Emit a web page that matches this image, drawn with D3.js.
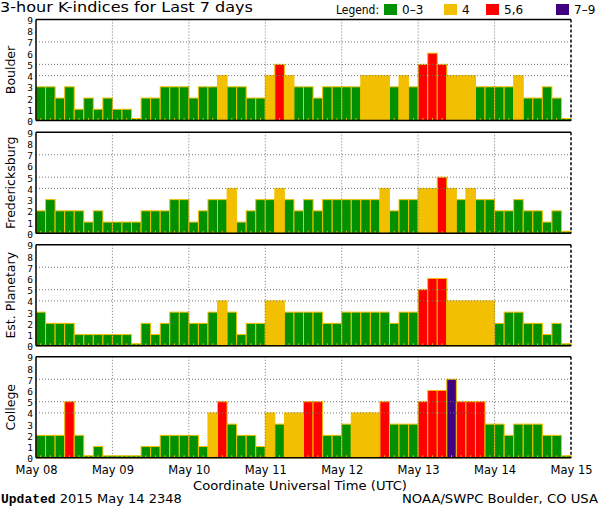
<html>
<head>
<meta charset="utf-8">
<title>K-indices</title>
<script src="https://d3js.org/d3.v7.min.js"></script>
<style>
  body { margin: 0; background: white; }
  text { font-family: "DejaVu Sans", sans-serif; fill: black; }
</style>
</head>
<body>
<svg id="chart" width="600" height="510"></svg>
<script>
// K-index values, 8 per day, May 08 00Z .. May 14 21Z
var boulder = [3,3,2,3,1,2,1,2, 1,1,0,2,2,3,3,3, 2,3,3,4,3,3,2,2, 4,5,4,3,3,2,3,3,
               3,3,4,4,4,3,4,3, 5,6,5,4,4,4,3,3, 3,3,4,2,2,3,2,0];
var fredericksburg = [2,3,2,2,2,1,2,1, 1,1,1,2,2,2,3,3, 1,2,3,3,4,1,2,3, 3,4,3,2,3,2,3,3,
                      3,3,3,3,4,2,3,3, 4,4,5,4,3,4,3,3, 2,2,3,2,2,1,2,0];
var planetary = [3,2,2,2,1,1,1,1, 1,1,0,2,1,2,3,3, 2,2,3,4,3,1,2,2, 4,4,3,3,3,3,2,2,
                 3,3,3,3,3,2,3,3, 5,6,6,4,4,4,4,4, 2,3,3,2,2,1,2,0];
var college = [2,2,2,5,2,0,1,0, 0,0,0,1,1,2,2,2, 2,1,4,5,3,2,2,1, 4,3,4,4,5,5,2,2,
               3,4,4,4,5,3,3,3, 5,6,6,7,5,5,5,3, 3,2,3,3,3,2,2,0];

var stations = ["Boulder", "Fredericksburg", "Est. Planetary", "College"];
var series = [boulder, fredericksburg, planetary, college];
var dayLabels = ["May 08","May 09","May 10","May 11","May 12","May 13","May 14","May 15"];
var yTicks = [0,1,2,3,4,5,6,7,8,9];
var gridLevels = [4,5,7];
var legendLabels = ["0\u20133", "4", "5,6", "7\u20139"];

var green = "#009000", yellow = "#f2c000", red = "#ff0000", purple = "#40007f";
var legendColors = [green, yellow, red, purple];
function kColor(v) {
  if (v <= 3) return green;
  if (v == 4) return yellow;
  if (v <= 6) return red;
  return purple;
}

var svg = d3.select("#chart");
var left = 36, right = 571;
var panelTop = [19.5, 132.3, 244.8, 356.8];
var panelH = 101;

var x = d3.scaleBand().domain(d3.range(56)).range([left, right]).paddingInner(0).paddingOuter(0);
var xDay = d3.scaleLinear().domain([0, 7]).range([left, right]);

// title
svg.append("text").attr("x", 0).attr("y", 12)
  .style("font-size", "14.5px").attr("textLength", 253).attr("lengthAdjust", "spacingAndGlyphs")
  .text("3-hour K-indices for Last 7 days");

// legend
svg.append("text").attr("x", 336).attr("y", 14).style("font-size", "11.5px")
  .attr("textLength", 43).attr("lengthAdjust", "spacingAndGlyphs").text("Legend:");
var legX = [384, 444, 486, 556];
legendLabels.forEach(function (l, i) {
  svg.append("rect").attr("x", legX[i]).attr("y", 4).attr("width", 13).attr("height", 11)
    .attr("fill", legendColors[i]);
  svg.append("text").attr("x", legX[i] + 18).attr("y", 14).style("font-size", "12px").text(l);
});

series.forEach(function (data, p) {
  var top = panelTop[p];
  var y = d3.scaleLinear().domain([0, 9]).range([top + panelH, top]);
  var g = svg.append("g");

  // bars
  g.selectAll("rect.bar").data(data).enter().append("rect")
    .attr("class", "bar")
    .attr("x", function (d, i) { return x(i); })
    .attr("width", x.bandwidth())
    .attr("y", function (d) { return Math.min(y(d), y(0) - 2); })
    .attr("height", function (d) { return Math.max(y(0) - y(d), 2); })
    .attr("fill", function (d) { return kColor(d); })
    .attr("stroke", yellow).attr("stroke-width", 1);

  // small 3-hour ticks at base
  g.selectAll("line.tk").data(data).enter().append("line")
    .attr("x1", function (d, i) { return x(i) + x.bandwidth() / 2; })
    .attr("x2", function (d, i) { return x(i) + x.bandwidth() / 2; })
    .attr("y1", y(0)).attr("y2", y(0) - 2.5)
    .attr("stroke", yellow).attr("stroke-width", 1);

  // dotted grid
  g.selectAll("line.gy").data(gridLevels).enter().append("line")
    .attr("x1", left).attr("x2", right)
    .attr("y1", function (d) { return y(d); }).attr("y2", function (d) { return y(d); })
    .attr("stroke", "#777").attr("stroke-dasharray", "1,2");
  g.selectAll("line.gx").data(d3.range(1, 7)).enter().append("line")
    .attr("x1", function (d) { return xDay(d); }).attr("x2", function (d) { return xDay(d); })
    .attr("y1", top).attr("y2", y(0))
    .attr("stroke", "#777").attr("stroke-dasharray", "1,2");

  // frame
  g.append("line").attr("x1", left).attr("x2", right).attr("y1", top).attr("y2", top)
    .attr("stroke", "black").attr("stroke-width", 1.5);
  g.append("line").attr("x1", left).attr("x2", right).attr("y1", y(0)).attr("y2", y(0))
    .attr("stroke", "black").attr("stroke-width", 1.5);
  g.append("line").attr("x1", left).attr("x2", left).attr("y1", top).attr("y2", y(0))
    .attr("stroke", "black").attr("stroke-width", 1.5);
  g.append("line").attr("x1", right).attr("x2", right).attr("y1", top).attr("y2", y(0))
    .attr("stroke", "black").attr("stroke-width", 1.5).attr("stroke-dasharray", "3,2");

  // y axis
  var ax = g.append("g").attr("transform", "translate(" + left + ",0)")
    .call(d3.axisLeft(y).tickValues(yTicks).tickSize(0).tickPadding(3));
  ax.select(".domain").remove();
  ax.selectAll("text").attr("dy", "0.42em")
    .style("font-size", "9.5px").style("font-family", "DejaVu Sans Mono, monospace");

  // station label
  g.append("text")
    .attr("transform", "translate(15," + (top + panelH / 2) + ") rotate(-90)")
    .style("text-anchor", "middle").style("font-size", "12.5px")
    .text(stations[p]);
});

// bottom axis
var bx = svg.append("g").attr("transform", "translate(0," + (panelTop[3] + panelH) + ")")
  .call(d3.axisBottom(xDay).tickValues(d3.range(8)).tickSize(0).tickPadding(8)
    .tickFormat(function (d) { return dayLabels[d]; }));
bx.select(".domain").remove();
bx.selectAll("text").style("font-size", "11.5px");

svg.append("text").attr("x", 300).attr("y", 490).style("text-anchor", "middle")
  .style("font-size", "13px").attr("textLength", 214).attr("lengthAdjust", "spacingAndGlyphs")
  .text("Coordinate Universal Time (UTC)");

var upd = svg.append("text").attr("x", 1).attr("y", 503).style("font-size", "13px");
upd.append("tspan").style("font-family", "Liberation Mono, DejaVu Sans Mono, monospace")
  .style("font-weight", "bold").text("Updated");
upd.append("tspan").text(" 2015 May 14 2348");

svg.append("text").attr("x", 598).attr("y", 503).style("text-anchor", "end")
  .style("font-size", "13px").attr("textLength", 196).attr("lengthAdjust", "spacingAndGlyphs")
  .text("NOAA/SWPC Boulder, CO USA");
</script>
</body>
</html>
